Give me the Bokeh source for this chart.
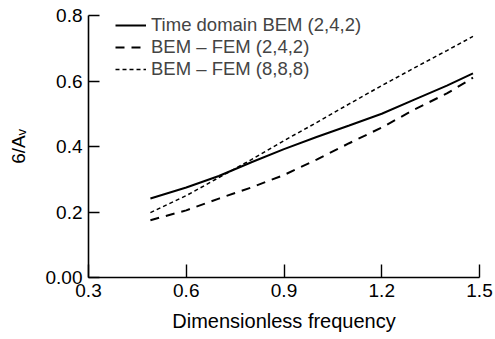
from bokeh.plotting import figure
from bokeh.models import Range1d, FixedTicker, Legend, LegendItem
from bokeh.embed import file_html
from bokeh.resources import INLINE

freq = [0.49, 0.6, 0.7, 0.8, 0.9, 1.0, 1.1, 1.2, 1.3, 1.4, 1.48]
time_bem = [0.241, 0.275, 0.31, 0.352, 0.392, 0.429, 0.464, 0.50, 0.543, 0.586, 0.623]
bem_fem_242 = [0.175, 0.205, 0.241, 0.275, 0.313, 0.36, 0.41, 0.458, 0.513, 0.562, 0.61]
bem_fem_888 = [0.198, 0.25, 0.305, 0.36, 0.418, 0.473, 0.53, 0.586, 0.64, 0.693, 0.736]

x_ticks = [0.3, 0.6, 0.9, 1.2, 1.5]
y_ticks = [0.0, 0.2, 0.4, 0.6, 0.8]
y_tick_labels = ["0.00", "0.2", "0.4", "0.6", "0.8"]
x_tick_labels = ["0.3", "0.6", "0.9", "1.2", "1.5"]
series_names = ["Time domain BEM (2,4,2)", "BEM \u2013 FEM (2,4,2)", "BEM \u2013 FEM (8,8,8)"]

FONT = "Liberation Sans"

p = figure(width=495, height=339, output_backend="svg", toolbar_location=None,
           x_range=Range1d(0.3, 1.5), y_range=Range1d(0.0, 0.8),
           min_border_left=88, min_border_right=16, min_border_top=15, min_border_bottom=62)
p.outline_line_color = None
p.grid.visible = False
p.background_fill_color = "white"

for ax in (p.xaxis[0], p.yaxis[0]):
    ax.axis_line_width = 1.6
    ax.axis_line_color = "black"
    ax.major_tick_out = 0
    ax.major_tick_line_width = 1.4
    ax.minor_tick_line_color = None
    ax.major_label_text_font = FONT
    ax.major_label_text_font_size = "19px"
    ax.major_label_text_color = "black"
    ax.axis_label_text_font = FONT
    ax.axis_label_text_font_style = "normal"
    ax.axis_label_text_color = "black"

p.xaxis[0].major_tick_in = 13
p.yaxis[0].major_tick_in = 11
p.xaxis[0].ticker = FixedTicker(ticks=x_ticks)
p.yaxis[0].ticker = FixedTicker(ticks=y_ticks)
p.xaxis[0].major_label_overrides = {t: l for t, l in zip(x_ticks, x_tick_labels)}
p.yaxis[0].major_label_overrides = {t: l for t, l in zip(y_ticks, y_tick_labels)}
p.xaxis[0].major_label_standoff = 6
p.yaxis[0].major_label_standoff = 6

p.xaxis[0].axis_label = "Dimensionless frequency"
p.xaxis[0].axis_label_text_font_size = "20px"
p.xaxis[0].axis_label_standoff = 10
p.yaxis[0].axis_label = "6/A\u1d65"
p.yaxis[0].axis_label_text_font_size = "19px"
p.yaxis[0].axis_label_standoff = 14

r1 = p.line(freq, time_bem, line_color="black", line_width=2)
r2 = p.line(freq, bem_fem_242, line_color="black", line_width=2, line_dash="9 7")
r3 = p.line(freq, bem_fem_888, line_color="black", line_width=1.5, line_dash="4 3")

legend = Legend(items=[LegendItem(label=series_names[0], renderers=[r1]),
                       LegendItem(label=series_names[1], renderers=[r2]),
                       LegendItem(label=series_names[2], renderers=[r3])],
                location=(27, 197))
legend.border_line_color = None
legend.background_fill_alpha = 0
legend.label_text_font = FONT
legend.label_text_font_size = "18.5px"
legend.glyph_width = 31
legend.glyph_height = 22
legend.label_height = 22
legend.spacing = 0
legend.padding = 0
legend.margin = 0
legend.label_standoff = 5
p.add_layout(legend, "center")

open("out.html", "w").write(file_html(p, INLINE))
